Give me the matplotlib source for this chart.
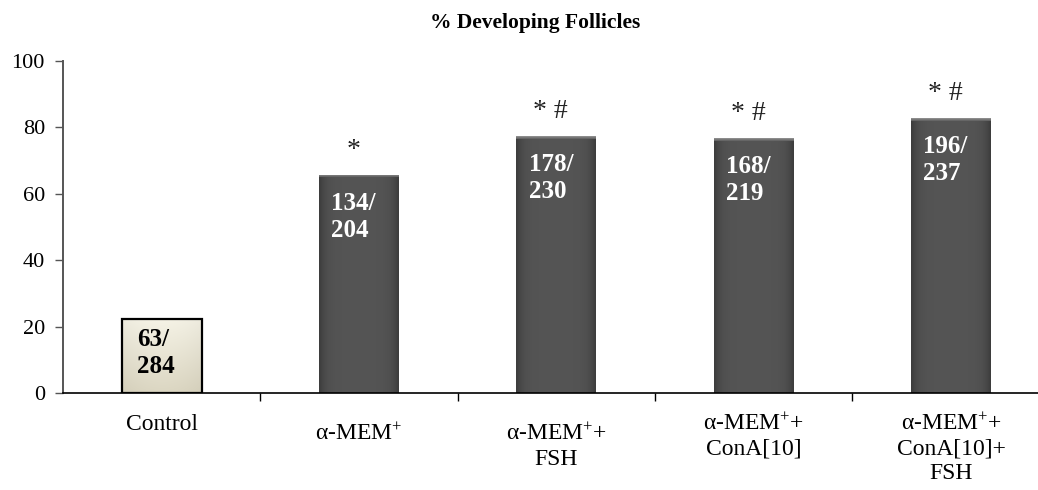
import numpy as np
import matplotlib
matplotlib.use('Agg')
from matplotlib import pyplot as plt
from matplotlib.transforms import ScaledTranslation

plt.rcParams['font.family'] = ['Liberation Serif', 'DejaVu Serif']
plt.rcParams['mathtext.fontset'] = 'custom'
plt.rcParams['mathtext.rm'] = 'Liberation Serif'
plt.rcParams['mathtext.it'] = 'Liberation Serif:italic'
plt.rcParams['mathtext.bf'] = 'Liberation Serif:bold'

# data
groups = ['Control',
          'α-MEM$^{+}$',
          'α-MEM$^{+}$+\nFSH',
          'α-MEM$^{+}$+\nConA[10]',
          'α-MEM$^{+}$+\nConA[10]+\nFSH']
pct = [22.2, 65.7, 77.4, 76.7, 82.7]
counts = ['63/\n284', '134/\n204', '178/\n230', '168/\n219', '196/\n237']
marks = ['', '*', '* #', '* #', '* #']

fig = plt.figure(figsize=(10.38, 4.9), dpi=100)
ax = fig.add_axes([63/1038, 97/490, 1 - 63/1038, 332/490])

x = np.arange(len(groups))
bars = ax.bar(x, pct, width=0.405, color='#4e4e4e', edgecolor='none', zorder=2)

# shading inside the bars
for i, b in enumerate(bars):
    bx, by = b.get_x(), b.get_y()
    bw, bh = b.get_width(), b.get_height()
    nrows = max(int(bh * 3.32), 2)
    if i == 0:
        b.set_facecolor('#e8e5d2')
        top = np.array([0.96, 0.95, 0.90])
        bot = np.array([0.86, 0.84, 0.76])
        t = np.linspace(0, 1, nrows)[:, None]
        img = (top * (1 - t) + bot * t)[:, None, :].repeat(40, axis=1)
        s = np.linspace(-1, 1, 40)
        img = img - 0.03 * (s[None, :, None] ** 2)
    else:
        s = np.linspace(-1, 1, 60)
        prof = 0.33 - 0.09 * np.abs(s) ** 6
        img = np.tile(prof, (nrows, 1))
        img[:3, :] = np.array([0.55, 0.47, 0.40])[:, None]
        img = np.clip(img, 0, 1)[:, :, None].repeat(3, axis=2)
    im = ax.imshow(np.clip(img, 0, 1), extent=[bx, bx + bw, by, by + bh],
                   aspect='auto', origin='upper', zorder=2.5, interpolation='bilinear')
    im.set_clip_path(b)
    if i == 0:
        ax.bar(x[0], pct[0], width=0.405, fill=False, edgecolor='black', linewidth=1.6, zorder=3)

# counts inside the bars, significance marks above
for i, b in enumerate(bars):
    cx = b.get_x() + b.get_width() / 2
    dy = -6 if i == 0 else -12   # control label sits closer to its bar top
    ax.annotate(counts[i], (cx, pct[i]), xytext=(-4, dy), textcoords='offset points',
                ha='center', va='top', multialignment='left', fontsize=18, fontweight='bold',
                color='black' if i == 0 else 'white', linespacing=1.22, zorder=4)
    if marks[i]:
        ax.annotate(marks[i], (cx, pct[i]), xytext=(-4, 13), textcoords='offset points',
                    ha='center', va='baseline', fontsize=20, color='#222222', zorder=4)

ax.set_xlim(-0.5, 4.44)
ax.set_ylim(0, 100)
ax.set_yticks([0, 20, 40, 60, 80, 100])
ax.tick_params(axis='y', direction='out', length=6, width=1, labelsize=16, pad=7, color='#555555')
ax.set_xticks(x)
ax.set_xticklabels(groups, fontsize=17, linespacing=1.2)
ax.set_xticks(x[:-1] + 0.5, minor=True)
ax.tick_params(axis='x', which='major', length=0, pad=15)
ax.tick_params(axis='x', which='minor', length=6, width=1, direction='out')

# a couple of the labels sit a little lower in the original
for k, lab in enumerate(ax.get_xticklabels()):
    if k in (1, 2):
        lab.set_transform(lab.get_transform() + ScaledTranslation(0, -0.1, fig.dpi_scale_trans))

for side in ('top', 'right'):
    ax.spines[side].set_visible(False)
ax.spines['left'].set_color('#555555')
ax.spines['left'].set_linewidth(1.4)
ax.spines['bottom'].set_linewidth(1.2)

fig.text(535/1038, 1 - 23/490, '% Developing Follicles', ha='center', va='center',
         fontsize=15.5, fontweight='bold')

fig.savefig('out.png', dpi=100)
